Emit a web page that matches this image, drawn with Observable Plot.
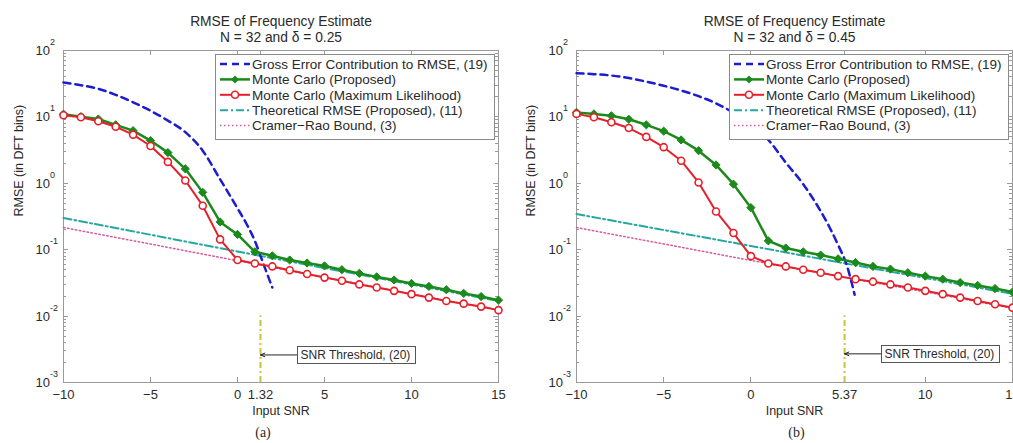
<!DOCTYPE html>
<html><head><meta charset="utf-8">
<script src="https://cdn.jsdelivr.net/npm/d3@7"></script>
<script src="https://cdn.jsdelivr.net/npm/@observablehq/plot@0.6"></script>
<style>
html,body{margin:0;padding:0;background:#fff;overflow:hidden;}
#wrap{display:flex;width:1013px;height:443px;overflow:hidden;}
#wrap svg{display:block;overflow:hidden;flex:none;}
</style></head><body><div id="wrap"></div>
<script>
// ---------- data ----------
const snr = [-10,-9,-8,-7,-6,-5,-4,-3,-2,-1,0,1,2,3,4,5,6,7,8,9,10,11,12,13,14,15];

// panel (a): N = 32, delta = 0.25
const proposedA = [11.0,10.1,9.3,7.6,6.2,4.4,2.9,1.65,0.73,0.262,0.17,0.093,0.081,0.070,0.063,0.057,0.050,0.044,0.039,0.035,0.031,0.028,0.025,0.022,0.0197,0.0174];
const mlA = [10.6,9.9,8.6,7.1,5.4,3.65,2.1,1.1,0.46,0.143,0.070,0.062,0.056,0.049,0.043,0.038,0.034,0.030,0.027,0.024,0.0214,0.019,0.0169,0.0154,0.0139,0.0123];
const grossSnrA = [-10,-9,-8,-7,-6,-5,-4,-3,-2,-1,-0.5,0,0.5,1,1.5,2];
const grossA = [33,30,26.5,21.5,16.6,12.4,8.8,5.9,3.1,1.15,0.7,0.42,0.25,0.135,0.06,0.027];
const bndSnr = [-10,-5,0,5,10,15];
const theoryA = [0.30,0.168,0.094,0.053,0.030,0.0168];
const crbA = [0.216,0.122,0.068,0.0385,0.0216,0.0122];
const thresholdA = 1.32;
const xTicksA = [-10,-5,0,1.32,5,10,15];

// panel (b): N = 32, delta = 0.45
const proposedB = [11.7,11.1,10.4,9.2,7.6,6.1,4.5,3.1,1.89,0.97,0.43,0.136,0.106,0.093,0.083,0.073,0.064,0.056,0.051,0.045,0.040,0.036,0.032,0.029,0.026,0.023];
const mlB = [11.1,9.9,8.3,6.8,5.0,3.5,2.19,1.03,0.377,0.178,0.080,0.062,0.056,0.050,0.045,0.040,0.036,0.033,0.030,0.027,0.024,0.0214,0.019,0.0169,0.0151,0.0134];
const grossSnrB = [-10,-9,-8,-7,-6,-5,-4,-3,-2,-1,0,1,2,3,4,4.5,5,5.5,5.95];
const grossB = [45.5,44,42,38.5,34,29.5,25,20.5,16,11.5,7.5,4.5,2.05,0.97,0.38,0.22,0.118,0.058,0.021];
const theoryB = [0.344,0.198,0.114,0.065,0.0375,0.0216];
const crbB = [0.216,0.122,0.069,0.040,0.0232,0.0131];
const thresholdB = 5.37;
const xTicksB = [-10,-5,0,5.37,10,15];

// annotation (where the label box starts, and its height on the log axis)
const noteA = {x: 3.45, y: 0.0026, label: "SNR Threshold, (20)"};
const noteB = {x: 7.49, y: 0.0027, label: "SNR Threshold, (20)"};

const yExponents = [-3,-2,-1,0,1,2];
const titleText = "RMSE of Frequency Estimate";
const subtitleA = "N = 32 and \u03b4 = 0.25";
const subtitleB = "N = 32 and \u03b4 = 0.45";
const xLabel = "Input SNR";
const yLabel = "RMSE (in DFT bins)";
const legendLabels = [
  "Gross Error Contribution to RMSE, (19)",
  "Monte Carlo (Proposed)",
  "Monte Carlo (Maximum Likelihood)",
  "Theoretical RMSE (Proposed), (11)",
  "Cramer\u2212Rao Bound, (3)"
];

// ---------- styles ----------
const SANS = "'Liberation Sans', Arial, sans-serif";
const C = {
  gross: "#1c1cd0", prop: "#1b8a1b", ml: "#e6202a", theory: "#26a6a0", crb: "#d65a9c",
  thr: "#c6c63a", frame: "#9a9a9a", text: "#2a2a2a"
};
const styles = [
  {stroke: C.gross, width: 2.5, dash: "7,5"},
  {stroke: C.prop, width: 2.5, marker: "diamond"},
  {stroke: C.ml, width: 2, marker: "circle"},
  {stroke: C.theory, width: 2, dash: "8,3,2,3"},
  {stroke: C.crb, width: 1.5, dash: "1.5,2.5"}
];

const fmtX = d => d < 0 ? "\u2212" + (-d) : String(d);
const measureCtx = document.createElement("canvas").getContext("2d");

function frameTicks(xTicks) {
  return (index, {x, y}, values, dims) => {
    const {width, height, marginLeft: ml, marginRight: mr, marginTop: mt, marginBottom: mb} = dims;
    const x0 = ml, x1 = width - mr, y0 = mt, y1 = height - mb;
    const g = d3.create("svg:g");
    const t = g.append("g").attr("stroke", C.frame).attr("stroke-width", 1).attr("fill", "none");
    const seg = (ax, ay, bx, by) => t.append("line").attr("x1", ax).attr("y1", ay).attr("x2", bx).attr("y2", by);
    for (const v of xTicks) {
      const px = Math.round(x(v)) + 0.5;
      seg(px, y1, px, y1 - 5);
      seg(px, y0, px, y0 + 5);
    }
    for (const e of yExponents) {
      const py = Math.round(y(Math.pow(10, e))) + 0.5;
      seg(x0, py, x0 + 5, py);
      seg(x1, py, x1 - 5, py);
      if (e < 2) {
        for (let m = 2; m <= 9; m++) {
          const q = Math.round(y(m * Math.pow(10, e))) + 0.5;
          seg(x0, q, x0 + 3, q);
          seg(x1, q, x1 - 3, q);
        }
      }
    }
    const lab = g.append("g").attr("fill", C.text).attr("font-family", SANS);
    for (const e of yExponents) {
      const py = y(Math.pow(10, e));
      lab.append("text").attr("x", x0 - 13).attr("y", py).attr("dy", "0.38em")
        .attr("text-anchor", "end").attr("font-size", 13).text("10");
      lab.append("text").attr("x", x0 - 13).attr("y", py - 5).attr("text-anchor", "start")
        .attr("font-size", 9).text(e < 0 ? "-" + (-e) : String(e));
    }
    return g.node();
  };
}

function legendMark() {
  return (index, scales, values, dims) => {
    const right = dims.width - dims.marginRight - 4;
    const left = right - 279, top = dims.marginTop + 4, rowH = 15.4, h = 85;
    const g = d3.create("svg:g");
    g.append("rect").attr("x", left + 0.5).attr("y", top + 0.5).attr("width", right - left).attr("height", h)
      .attr("fill", "white").attr("stroke", "#8a8a8a");
    legendLabels.forEach((lab, i) => {
      const s = styles[i];
      const cy = top + 10 + i * rowH;
      g.append("line").attr("x1", left + 5).attr("x2", left + 35).attr("y1", cy).attr("y2", cy)
        .attr("stroke", s.stroke).attr("stroke-width", s.width).attr("stroke-dasharray", s.dash || null);
      if (s.marker === "diamond") {
        const cx = left + 20, r = 4;
        g.append("path").attr("d", `M${cx},${cy - r}L${cx + r},${cy}L${cx},${cy + r}L${cx - r},${cy}Z`).attr("fill", s.stroke);
      } else if (s.marker === "circle") {
        g.append("circle").attr("cx", left + 20).attr("cy", cy).attr("r", 3.5)
          .attr("fill", "white").attr("stroke", s.stroke).attr("stroke-width", 1.6);
      }
      g.append("text").attr("x", left + 37).attr("y", cy).attr("dy", "0.36em").attr("text-anchor", "start")
        .attr("font-family", SANS).attr("font-size", 13.5).attr("fill", C.text).text(lab);
    });
    return g.node();
  };
}

function noteMark(note) {
  return (index, {x, y}) => {
    const px = Math.round(x(note.x)) + 0.5, py = y(note.y);
    measureCtx.font = "12px 'Liberation Sans'";
    const w = Math.ceil(measureCtx.measureText(note.label).width) + 7, h = 17;
    const g = d3.create("svg:g");
    g.append("rect").attr("x", px).attr("y", Math.round(py - h / 2) + 0.5).attr("width", w).attr("height", h)
      .attr("fill", "white").attr("stroke", "#555");
    g.append("text").attr("x", px + 3).attr("y", py).attr("dy", "0.36em").attr("text-anchor", "start")
      .attr("font-family", SANS).attr("font-size", 12).attr("fill", C.text).text(note.label);
    return g.node();
  };
}

function panel(o) {
  const pts = (xs, ys) => xs.map((v, i) => ({x: v, y: ys[i]}));
  const prop = pts(snr, o.proposed), ml = pts(snr, o.ml);
  const gross = pts(o.grossSnr, o.gross);
  const theory = pts(bndSnr, o.theory), crb = pts(bndSnr, o.crb);
  return Plot.plot({
    width: o.width, height: 443,
    marginLeft: o.marginLeft, marginRight: o.marginRight, marginTop: 50, marginBottom: 61,
    style: {fontFamily: SANS, fontSize: "13px", color: C.text, background: "white", overflow: "hidden"},
    x: {type: "linear", domain: [-10, 15]},
    y: {type: "log", domain: [1e-3, 1e2], axis: null},
    marks: [
      Plot.frame({stroke: C.frame}),
      frameTicks(o.xTicks),
      Plot.axisX({ticks: o.xTicks, tickSize: 0, tickPadding: 7, tickFormat: fmtX, label: null, fontSize: 13}),
      Plot.ruleX([o.threshold], {x: d => d, y1: 1e-3, y2: 1e-2, stroke: C.thr, strokeWidth: 2, strokeDasharray: "6,3,2,3"}),
      Plot.line(crb, {x: "x", y: "y", stroke: C.crb, strokeWidth: 1.5, strokeDasharray: "1.5,2.5"}),
      Plot.line(theory, {x: "x", y: "y", stroke: C.theory, strokeWidth: 2, strokeDasharray: "8,3,2,3"}),
      Plot.line(gross, {x: "x", y: "y", stroke: C.gross, strokeWidth: 2.5, strokeDasharray: "7,5", curve: "monotone-x"}),
      Plot.line(prop, {x: "x", y: "y", stroke: C.prop, strokeWidth: 2.5}),
      Plot.dot(prop, {x: "x", y: "y", symbol: "diamond2", r: 3.7, fill: C.prop, stroke: C.prop, strokeWidth: 1}),
      Plot.line(ml, {x: "x", y: "y", stroke: C.ml, strokeWidth: 2}),
      Plot.dot(ml, {x: "x", y: "y", r: 3.5, fill: "white", stroke: C.ml, strokeWidth: 1.6}),
      Plot.arrow([{x1: o.note.x, x2: o.threshold, y: o.note.y}], {x1: "x1", x2: "x2", y1: "y", y2: "y", stroke: "#222", strokeWidth: 1, headLength: 7, headAngle: 45}),
      noteMark(o.note),
      legendMark(),
      Plot.text([titleText], {text: d => d, frameAnchor: "top", dy: -34, fontSize: 13.8, fill: C.text}),
      Plot.text([o.subtitle], {text: d => d, frameAnchor: "top", dy: -18, fontSize: 13.8, fill: C.text}),
      Plot.text([xLabel], {text: d => d, frameAnchor: "bottom", dy: 32, fontSize: 12.5, fill: C.text}),
      Plot.text([yLabel], {text: d => d, frameAnchor: "left", rotate: -90, dx: o.yLabelDx, fontSize: 12.5, fill: C.text}),
      Plot.text([o.tag], {text: d => d, frameAnchor: "bottom", dy: 54, dx: o.tagDx, fontSize: 14, fontFamily: "'Liberation Serif', 'Times New Roman', serif", fill: C.text})
    ]
  });
}

const wrap = document.getElementById("wrap");
wrap.appendChild(panel({
  width: 506, marginLeft: 63, marginRight: 8,
  proposed: proposedA, ml: mlA, grossSnr: grossSnrA, gross: grossA, theory: theoryA, crb: crbA,
  threshold: thresholdA, xTicks: xTicksA, note: noteA, subtitle: subtitleA, tag: "(a)", tagDx: -18, yLabelDx: -45
}));
wrap.appendChild(panel({
  width: 507, marginLeft: 70, marginRight: 1,
  proposed: proposedB, ml: mlB, grossSnr: grossSnrB, gross: grossB, theory: theoryB, crb: crbB,
  threshold: thresholdB, xTicks: xTicksB, note: noteB, subtitle: subtitleB, tag: "(b)", tagDx: 2, yLabelDx: -46
}));
</script></body></html>
